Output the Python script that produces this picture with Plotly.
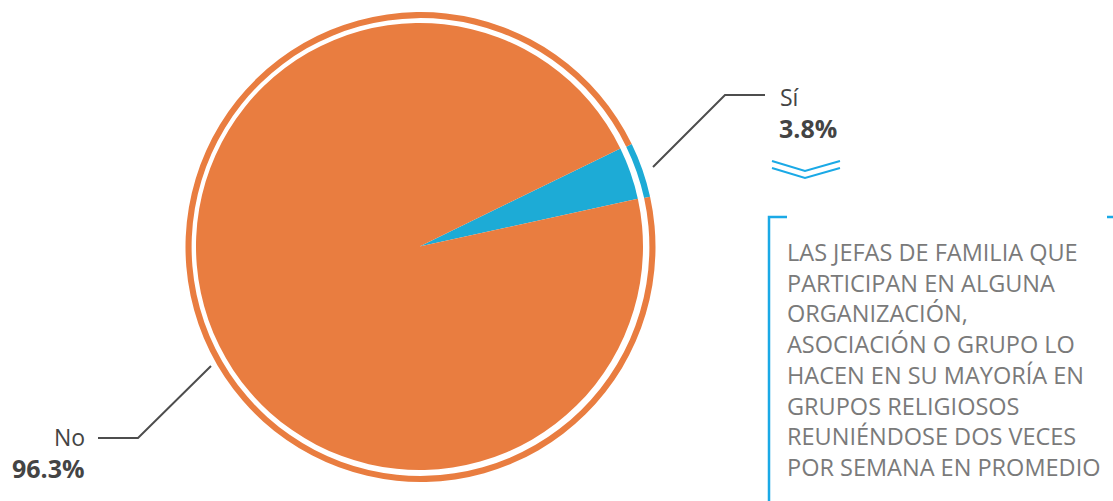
import plotly.graph_objects as go

labels = ["Sí", "No"]
values = [3.8, 96.3]
pct_text = ["3.8%", "96.3%"]
colors = ["#1DABD6", "#E97D40"]
note_lines = [
    "LAS JEFAS DE FAMILIA QUE",
    "PARTICIPAN EN ALGUNA",
    "ORGANIZACIÓN,",
    "ASOCIACIÓN O GRUPO LO",
    "HACEN EN SU MAYORÍA EN",
    "GRUPOS RELIGIOSOS",
    "REUNIÉNDOSE DOS VECES",
    "POR SEMANA EN PROMEDIO",
]

W, H = 1113, 501
ROT = 64

def dom(cx, cy, r):
    return dict(x=[(cx - r) / W, (cx + r) / W], y=[1 - (cy + r) / H, 1 - (cy - r) / H])

fig = go.Figure()
# outer ring
fig.add_trace(go.Pie(labels=labels, values=values, sort=False, direction="clockwise",
                     rotation=ROT, hole=0.974, textinfo="none", hoverinfo="label+percent",
                     marker=dict(colors=colors, line=dict(width=0)),
                     domain=dom(420.5, 247, 235), showlegend=False))
# main pie
fig.add_trace(go.Pie(labels=labels, values=values, sort=False, direction="clockwise",
                     rotation=ROT, textinfo="none", hoverinfo="label+percent",
                     marker=dict(colors=colors, line=dict(width=0)),
                     domain=dom(419.5, 246.5, 223.5), showlegend=False))

line_col = "#4d4d4d"
blue = "#1AA9E6"
shapes = [
    dict(type="path", path="M 653 167 L 725 95 L 765 95", line=dict(color=line_col, width=2)),
    dict(type="path", path="M 98 438 L 138 438 L 211 366", line=dict(color=line_col, width=2)),
    dict(type="path", path="M 772 161 L 805 171 L 840 161", line=dict(color=blue, width=2)),
    dict(type="path", path="M 772 168 L 805 178 L 840 168", line=dict(color=blue, width=2)),
    dict(type="path", path="M 787 217 L 769 217 L 769 501", line=dict(color=blue, width=2.5)),
    dict(type="line", x0=1107, x1=1113, y0=217, y1=217, line=dict(color=blue, width=2.5)),
]
for s in shapes:
    s.update(xref="x", yref="y", layer="above")

ann = []
font_reg = "Open Sans, Noto Sans, sans-serif"
ann.append(dict(x=778, y=97, text=labels[0], xanchor="left", yanchor="middle",
                font=dict(size=23, color="#444444", family=font_reg)))
ann.append(dict(x=777, y=128, text="<b>" + pct_text[0] + "</b>", xanchor="left", yanchor="middle",
                font=dict(size=25, color="#444444", family=font_reg)))
ann.append(dict(x=87, y=437, text=labels[1], xanchor="right", yanchor="middle",
                font=dict(size=23, color="#444444", family=font_reg)))
ann.append(dict(x=87, y=468, text="<b>" + pct_text[1] + "</b>", xanchor="right", yanchor="middle",
                font=dict(size=25, color="#444444", family=font_reg)))
for i, t in enumerate(note_lines):
    ann.append(dict(x=785, y=252 + i * 30.7, text=t, xanchor="left", yanchor="middle",
                    font=dict(size=23.5, color="#7a7a7a", family=font_reg)))
for a in ann:
    a.update(xref="x", yref="y", showarrow=False)

fig.update_layout(
    width=W, height=H, margin=dict(l=0, r=0, t=0, b=0),
    paper_bgcolor="white", plot_bgcolor="white",
    xaxis=dict(range=[0, W], visible=False, fixedrange=True, domain=[0, 1]),
    yaxis=dict(range=[H, 0], visible=False, fixedrange=True, domain=[0, 1]),
    shapes=shapes, annotations=ann,
)
fig.write_html("out.html", config={"displayModeBar": False},
               post_script="document.body.style.margin='0';document.body.style.overflow='hidden';")
